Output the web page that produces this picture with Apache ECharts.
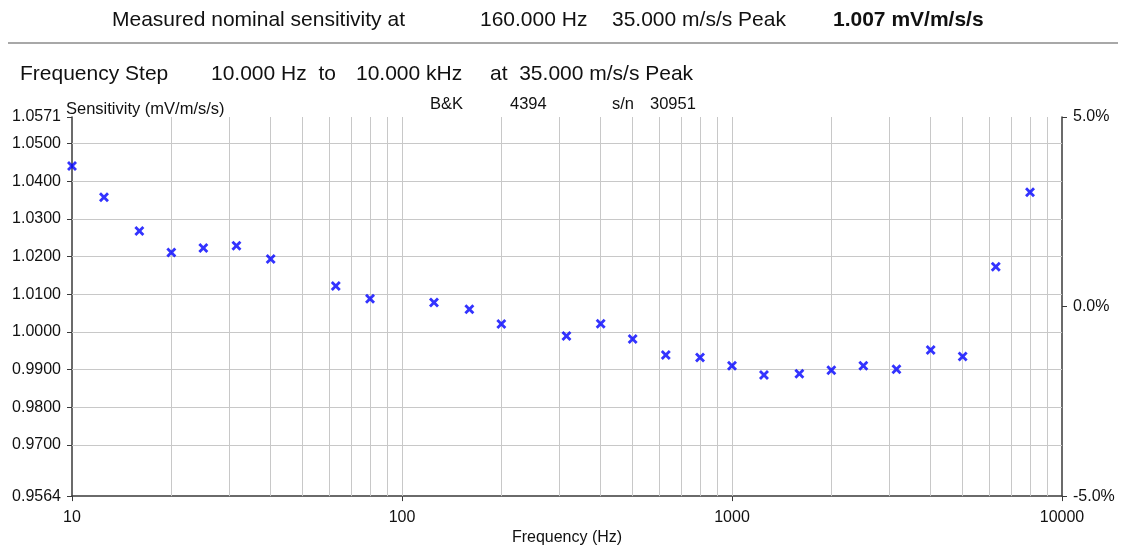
<!DOCTYPE html>
<html>
<head>
<meta charset="utf-8">
<script src="https://cdn.jsdelivr.net/npm/echarts@6/dist/echarts.min.js"></script>
<style>
  html, body { margin: 0; padding: 0; background: #fff; }
  #chart { width: 1130px; height: 551px; }
</style>
</head>
<body>
<div id="chart"></div>
<script>
// 1/3 octave test frequencies (Hz) and measured sensitivity (mV/m/s/s)
var freqs = [10, 12.5, 16, 20, 25, 31.5, 40, 63, 80, 125, 160, 200, 315, 400, 500,
  630, 800, 1000, 1250, 1600, 2000, 2500, 3150, 4000, 5000, 6300, 8000]
var sensitivity = [1.0441, 1.0358, 1.0268, 1.0211, 1.0223, 1.0229, 1.0194, 1.0122, 1.0088,
  1.0078, 1.0060, 1.0021, 0.9989, 1.0022, 0.9981, 0.9939, 0.9932, 0.9910, 0.9886, 0.9889,
  0.9898, 0.9910, 0.9901, 0.9952, 0.9935, 1.0173, 1.0371]

var yTicks = [0.9564, 0.97, 0.98, 0.99, 1.00, 1.01, 1.02, 1.03, 1.04, 1.05, 1.0571]
var pctTicks = [-5, 0, 5]
var xGridLines = [20, 30, 40, 50, 60, 70, 80, 90, 100, 200, 300, 400, 500, 600, 700, 800, 900,
  1000, 2000, 3000, 4000, 5000, 6000, 7000, 8000, 9000]

var chart = echarts.init(document.getElementById('chart'))
var font = '"Liberation Sans", Arial, sans-serif'
var gridColor = '#c8c8c8'
var axisColor = '#3a3a3a'
var crossPath = 'path://M0,2 L2,0 L5,3 L8,0 L10,2 L7,5 L10,8 L8,10 L5,7 L2,10 L0,8 L3,5 Z'

function headText(x, y, text, size, weight) {
  return {
    type: 'text', left: x, top: y, silent: true,
    style: { text: text, fill: '#111', font: (weight || 'normal') + ' ' + size + 'px ' + font }
  }
}

var gridMarks = []
xGridLines.forEach(function (v) { gridMarks.push({ xAxis: v }) })
yTicks.slice(1).forEach(function (v) { gridMarks.push({ yAxis: v }) })

chart.setOption({
  animation: false,
  textStyle: { fontFamily: font },
  grid: { left: 72, right: 68, top: 117, bottom: 53 },
  graphic: [
    headText(112, 10, 'Measured nominal sensitivity at', 21),
    headText(480, 10, '160.000 Hz', 21),
    headText(612, 10, '35.000 m/s/s Peak', 21),
    headText(833, 10, '1.007 mV/m/s/s', 21, 'bold'),
    {
      type: 'rect', left: 8, top: 42, silent: true,
      shape: { width: 1110, height: 2 },
      style: { fill: '#a8a8a8' }
    },
    headText(20, 64, 'Frequency Step', 21),
    headText(211, 64, '10.000 Hz  to', 21),
    headText(356, 64, '10.000 kHz', 21),
    headText(490, 64, 'at  35.000 m/s/s Peak', 21),
    headText(66, 101, 'Sensitivity (mV/m/s/s)', 16.5),
    headText(430, 96, 'B&K', 16.5),
    headText(510, 96, '4394', 16.5),
    headText(612, 96, 's/n', 16.5),
    headText(650, 96, '30951', 16.5)
  ],
  xAxis: {
    type: 'log',
    logBase: 10,
    min: 10,
    max: 10000,
    name: 'Frequency (Hz)',
    nameLocation: 'middle',
    nameGap: 32,
    nameTextStyle: { fontSize: 16, color: '#111' },
    axisLine: { onZero: false, lineStyle: { color: axisColor, width: 1.5 } },
    axisTick: { show: true, length: 5, lineStyle: { color: axisColor } },
    axisLabel: {
      fontSize: 16, color: '#111', margin: 13,
      formatter: function (v) { return String(Math.round(v)) }
    },
    splitLine: { show: false },
    minorTick: { show: false },
    minorSplitLine: { show: false }
  },
  yAxis: [{
    type: 'value',
    min: 0.9564,
    max: 1.0571,
    axisLine: { show: true, onZero: false, lineStyle: { color: axisColor, width: 1.5 } },
    axisTick: { show: true, length: 5, customValues: yTicks, lineStyle: { color: axisColor } },
    axisLabel: {
      fontSize: 16, color: '#111', margin: 11, customValues: yTicks,
      formatter: function (v) { return v.toFixed(4) }
    },
    splitLine: { show: false }
  }, {
    type: 'value',
    position: 'right',
    min: -5,
    max: 5,
    interval: 5,
    axisLine: { show: true, onZero: false, lineStyle: { color: axisColor, width: 1.5 } },
    axisTick: { show: true, length: 5, lineStyle: { color: axisColor } },
    axisLabel: {
      fontSize: 16, color: '#111', margin: 11,
      formatter: function (v) { return v.toFixed(1) + '%' }
    },
    splitLine: { show: false }
  }],
  series: [{
    name: 'grid',
    type: 'line',
    data: [],
    z: 1,
    silent: true,
    markLine: {
      silent: true,
      symbol: ['none', 'none'],
      label: { show: false },
      lineStyle: { color: gridColor, width: 1, type: 'solid' },
      emphasis: { disabled: true },
      data: gridMarks
    }
  }, {
    name: 'Sensitivity',
    type: 'scatter',
    z: 5,
    symbol: crossPath,
    symbolSize: 10,
    itemStyle: { color: '#0000ff' },
    data: freqs.map(function (f, i) { return [f, sensitivity[i]] })
  }]
})
</script>
</body>
</html>
